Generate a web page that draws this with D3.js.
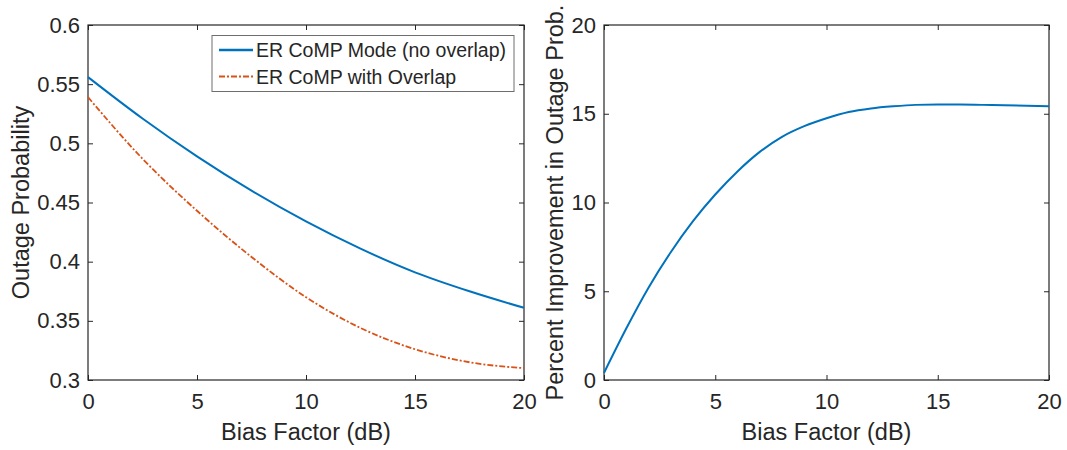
<!DOCTYPE html>
<html>
<head>
<meta charset="utf-8">
<script src="https://cdn.jsdelivr.net/npm/d3@7"></script>
<style>
  body { margin: 0; background: #fff; }
  svg { font-family: "Liberation Sans", Arial, Helvetica, sans-serif; }
</style>
</head>
<body>
<svg id="chart" width="1067" height="450"></svg>
<script>
// bias factor samples (dB)
const biasLeft = [0, 2.5, 5, 7.5, 10, 12.5, 15, 17.5, 20];
const outageNoOverlap = [0.556, 0.521, 0.489, 0.460, 0.434, 0.411, 0.391, 0.375, 0.361];
const outageOverlap = [0.539, 0.487, 0.443, 0.404, 0.370, 0.344, 0.326, 0.315, 0.310];

const biasRight = [0, 1, 2, 3, 4, 5, 6, 7, 8, 9, 10, 11, 12, 13, 14, 15, 16, 17, 18, 19, 20];
const improvement = [0.4, 2.9, 5.2, 7.2, 8.95, 10.45, 11.75, 12.85, 13.7, 14.3, 14.75, 15.1, 15.3, 15.42, 15.5, 15.52, 15.52, 15.5, 15.48, 15.45, 15.42];

const xTicks = [0, 5, 10, 15, 20];
const yTicksLeft = [0.3, 0.35, 0.4, 0.45, 0.5, 0.55, 0.6];
const yTicksRight = [0, 5, 10, 15, 20];

const seriesNames = ['ER CoMP Mode (no overlap)', 'ER CoMP with Overlap'];

const blue = '#0072BD', orange = '#D95319', ink = '#262626';
const svg = d3.select('#chart');
const plotTop = 25, plotBottom = 380;

// draws one boxed axes with inward ticks, matlab style
const makeAxes = (left, right, yDomain, yTicks, yFmt, yLabel, yLabelX) => {
    const x = d3.scaleLinear().domain([0, 20]).range([left, right]);
    const y = d3.scaleLinear().domain(yDomain).range([plotBottom, plotTop]);
    const g = svg.append('g');

    const style = sel => {
        sel.select('.domain').remove();
        sel.selectAll('line').attr('stroke', ink);
        sel.selectAll('text').attr('fill', ink).style('font-size', '22px');
    };

    g.append('g').attr('transform', `translate(0,${plotBottom})`)
        .call(d3.axisBottom(x).tickValues(xTicks).tickSizeInner(-5).tickSizeOuter(0).tickPadding(13))
        .call(style);
    g.append('g').attr('transform', `translate(0,${plotTop})`)
        .call(d3.axisTop(x).tickValues(xTicks).tickSizeInner(-5).tickSizeOuter(0).tickFormat(''))
        .call(style);
    g.append('g').attr('transform', `translate(${left},0)`)
        .call(d3.axisLeft(y).tickValues(yTicks).tickFormat(yFmt).tickSizeInner(-5).tickSizeOuter(0).tickPadding(8))
        .call(style);
    g.append('g').attr('transform', `translate(${right},0)`)
        .call(d3.axisRight(y).tickValues(yTicks).tickSizeInner(-5).tickSizeOuter(0).tickFormat(''))
        .call(style);

    g.append('rect')
        .attr('x', left).attr('y', plotTop)
        .attr('width', right - left).attr('height', plotBottom - plotTop)
        .attr('fill', 'none').attr('stroke', ink).attr('stroke-width', 1.2);

    g.append('text')
        .attr('x', (left + right) / 2).attr('y', 440)
        .attr('text-anchor', 'middle').attr('fill', ink)
        .style('font-size', '23.5px')
        .text('Bias Factor (dB)');

    g.append('text')
        .attr('transform', `translate(${yLabelX},${(plotTop + plotBottom) / 2}) rotate(-90)`)
        .attr('text-anchor', 'middle').attr('fill', ink)
        .style('font-size', '23.5px')
        .text(yLabel);

    return {x, y, g};
};

// left panel
const L = makeAxes(88, 524, [0.3, 0.6], yTicksLeft, d => String(+d.toFixed(2)), 'Outage Probability', 29);
const lineL = d3.line().x(d => L.x(d[0])).y(d => L.y(d[1])).curve(d3.curveMonotoneX);

L.g.append('path')
    .datum(d3.zip(biasLeft, outageOverlap))
    .attr('d', lineL)
    .attr('fill', 'none').attr('stroke', orange).attr('stroke-width', 1.8)
    .attr('stroke-dasharray', '6,2,2,2');
L.g.append('path')
    .datum(d3.zip(biasLeft, outageNoOverlap))
    .attr('d', lineL)
    .attr('fill', 'none').attr('stroke', blue).attr('stroke-width', 2);

// legend
const leg = L.g.append('g');
leg.append('rect')
    .attr('x', 212).attr('y', 35.5).attr('width', 302).attr('height', 56)
    .attr('fill', '#fff').attr('stroke', '#6e6e6e').attr('stroke-width', 1);
seriesNames.forEach((name, i) => {
    const yy = 50 + i * 26.5;
    leg.append('line')
        .attr('x1', 219).attr('x2', 253).attr('y1', yy).attr('y2', yy)
        .attr('stroke', i === 0 ? blue : orange)
        .attr('stroke-width', i === 0 ? 2.5 : 1.8)
        .attr('stroke-dasharray', i === 0 ? null : '6,2,2,2');
    leg.append('text')
        .attr('x', 256).attr('y', yy + 7)
        .attr('fill', ink).style('font-size', '19.5px')
        .text(name);
});

// right panel
const R = makeAxes(604, 1049, [0, 20], yTicksRight, d3.format('d'), 'Percent Improvement in Outage Prob.', 563);
const lineR = d3.line().x(d => R.x(d[0])).y(d => R.y(d[1])).curve(d3.curveMonotoneX);

R.g.append('path')
    .datum(d3.zip(biasRight, improvement))
    .attr('d', lineR)
    .attr('fill', 'none').attr('stroke', blue).attr('stroke-width', 2);
</script>
</body>
</html>
